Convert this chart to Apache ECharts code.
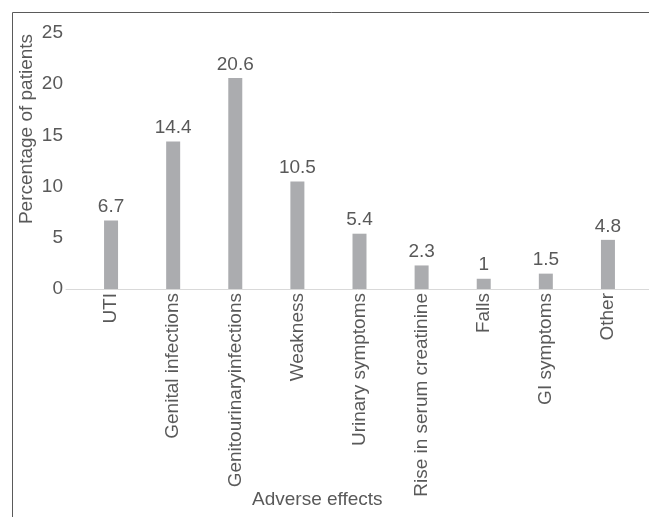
<!DOCTYPE html>
<html>
<head>
<meta charset="utf-8">
<style>
    html, body { margin: 0; padding: 0; background: #fff; }
    #chart { width: 649px; height: 517px; }
</style>
<script src="https://cdn.jsdelivr.net/npm/echarts@6/dist/echarts.min.js"></script>
</head>
<body>
<div id="chart"></div>
<script>
// data
var categories = ['UTI', 'Genital infections', 'Genitourinaryinfections', 'Weakness',
    'Urinary symptoms', 'Rise in serum creatinine', 'Falls', 'GI symptoms', 'Other'];
var percentValues = [6.7, 14.4, 20.6, 10.5, 5.4, 2.3, 1, 1.5, 4.8];
var yTicks = [0, 5, 10, 15, 20, 25];

var textColor = '#595959';
var fontName = '"Liberation Sans", Arial, sans-serif';
var fs = 19;

var chart = echarts.init(document.getElementById('chart'));

var option = {
    animation: false,
    backgroundColor: '#fff',
    textStyle: { fontFamily: fontName },
    title: {
        text: 'Adverse effects',
        left: 252,
        top: 490,
        padding: 0,
        textStyle: { fontSize: fs, fontWeight: 'normal', color: textColor, fontFamily: fontName }
    },
    graphic: [
        {   // outer frame (only top and left are visible)
            type: 'rect',
            left: 10, top: 10,
            shape: { width: 700, height: 600 },
            style: { fill: 'none', stroke: '#5a5a5a', lineWidth: 1 },
            silent: true
        },
        {   // y axis title
            type: 'text',
            x: 27, y: 129,
            rotation: Math.PI / 2,
            style: {
                text: 'Percentage of patients',
                fill: textColor,
                font: fs + 'px ' + fontName,
                align: 'center',
                verticalAlign: 'middle'
            }
        }
    ],
    grid: [
        { left: 80, right: 10, top: 33, bottom: 228 },
        { left: 66, right: 0, top: 33, bottom: 228 }   // only for the long base line
    ],
    xAxis: [
        {
            type: 'category',
            gridIndex: 0,
            data: categories,
            axisLine: { show: false },
            axisTick: { show: false },
            axisLabel: {
                rotate: 90,
                interval: 0,
                margin: 4,
                fontSize: fs,
                color: textColor
            }
        },
        {
            type: 'value',
            gridIndex: 1,
            min: 0, max: 1,
            axisLine: { show: true, onZero: false, lineStyle: { color: '#d9d9d9', width: 1 } },
            axisTick: { show: false },
            axisLabel: { show: false },
            splitLine: { show: false }
        }
    ],
    yAxis: [
        {
            type: 'value',
            gridIndex: 0,
            min: yTicks[0],
            max: yTicks[yTicks.length - 1],
            interval: 5,
            axisLine: { show: false },
            axisTick: { show: false },
            splitLine: { show: false },
            axisLabel: { margin: 17, fontSize: fs, color: textColor }
        },
        {
            type: 'value',
            gridIndex: 1,
            min: 0, max: 25,
            show: false
        }
    ],
    series: [
        {
            type: 'bar',
            xAxisIndex: 0,
            yAxisIndex: 0,
            data: percentValues,
            barWidth: 14,
            itemStyle: { color: '#abacaf' },
            label: {
                show: true,
                position: 'top',
                distance: 4,
                fontSize: fs,
                color: textColor
            }
        }
    ]
};

chart.setOption(option);
</script>
</body>
</html>
